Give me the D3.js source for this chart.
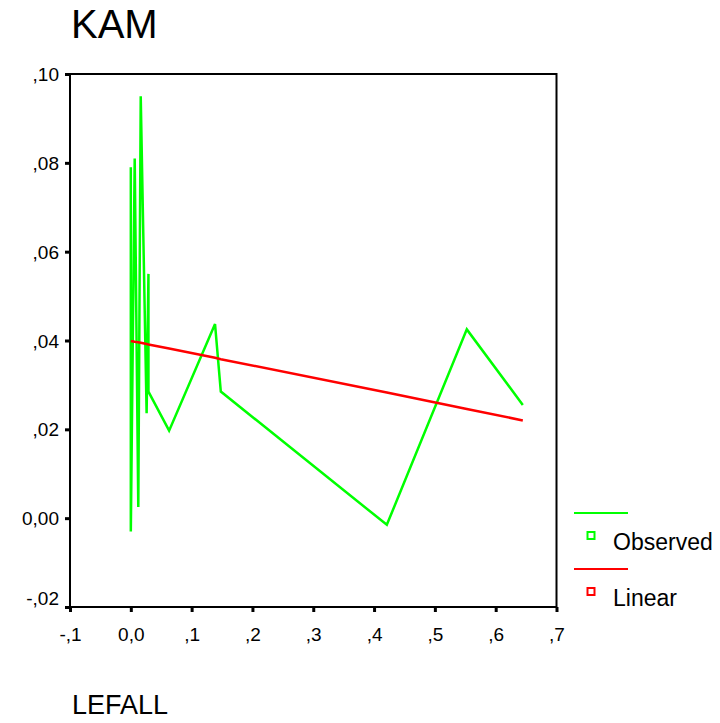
<!DOCTYPE html>
<html>
<head>
<meta charset="utf-8">
<script src="https://cdn.jsdelivr.net/npm/d3@7"></script>
<style>
  body { margin: 0; background: #fff; }
  svg { display: block; font-family: "Liberation Sans", Arial, sans-serif; }
</style>
</head>
<body>
<svg width="720" height="723"></svg>
<script>
// observed KAM vs LEFALL, sorted by x
var obsX = [0.000, 0.000, 0.0064, 0.0123, 0.0163, 0.026, 0.029, 0.029, 0.063, 0.1385, 0.148, 0.421, 0.5525, 0.6446];
var obsY = [0.079, -0.003, 0.081, 0.0025, 0.095, 0.0236, 0.055, 0.0285, 0.0197, 0.0437, 0.0285, -0.0015, 0.0425, 0.0255];

// linear fit values
var linX = [0.000, 0.0064, 0.0123, 0.0163, 0.026, 0.029, 0.063, 0.1385, 0.148, 0.421, 0.5525, 0.6446];
var linY = [0.0399, 0.0397, 0.0396, 0.0395, 0.0392, 0.0391, 0.0382, 0.0361, 0.0358, 0.0283, 0.0246, 0.0220];

var xTicks = [-0.1, 0, 0.1, 0.2, 0.3, 0.4, 0.5, 0.6, 0.7];
var xLabels = ["-,1", "0,0", ",1", ",2", ",3", ",4", ",5", ",6", ",7"];
var yTicks = [-0.02, 0, 0.02, 0.04, 0.06, 0.08, 0.10];
var yLabels = ["-,02", "0,00", ",02", ",04", ",06", ",08", ",10"];

var legendNames = ["Observed", "Linear"];
var legendColors = ["#00ff00", "#ff0000"];

var svg = d3.select("svg");

var x = d3.scaleLinear().domain([-0.1, 0.7]).range([70, 556.5]);
var y = d3.scaleLinear().domain([-0.02, 0.10]).range([607, 74]);

// title
svg.append("text")
    .attr("x", 71)
    .attr("y", 38)
    .attr("font-size", 40)
    .attr("fill", "#000")
    .text("KAM");

// frame
svg.append("rect")
    .attr("x", x(-0.1))
    .attr("y", y(0.10))
    .attr("width", x(0.7) - x(-0.1))
    .attr("height", y(-0.02) - y(0.10))
    .attr("fill", "none")
    .attr("stroke", "#000")
    .attr("stroke-width", 2);

// axes
var gx = svg.append("g")
    .attr("transform", "translate(0," + y(-0.02) + ")")
    .call(d3.axisBottom(x)
        .tickValues(xTicks)
        .tickSize(5)
        .tickPadding(25)
        .tickFormat(function (d, i) { return xLabels[i]; }));

var gy = svg.append("g")
    .attr("transform", "translate(" + x(-0.1) + ",0)")
    .call(d3.axisLeft(y)
        .tickValues(yTicks)
        .tickSize(5)
        .tickPadding(6)
        .tickFormat(function (d, i) { return yLabels[i]; }));

[gx, gy].forEach(function (g) {
    g.select(".domain").remove();
    g.selectAll(".tick line").attr("stroke", "#000").attr("stroke-width", 3);
    g.selectAll(".tick text")
        .attr("font-size", 19)
        .attr("font-family", "Liberation Sans, Arial, sans-serif")
        .attr("fill", "#000");
});
gx.selectAll(".tick text").attr("dy", "0.2em");
// bottom y label sits a bit higher than its tick
gy.selectAll(".tick text")
    .attr("dy", function (d) { return d === -0.02 ? "-0.15em" : "0.35em"; });

// lines
var line = d3.line()
    .x(function (d) { return x(d[0]); })
    .y(function (d) { return y(d[1]); });

svg.append("path")
    .datum(obsX.map(function (v, i) { return [v, obsY[i]]; }))
    .attr("fill", "none")
    .attr("stroke", legendColors[0])
    .attr("stroke-width", 2.5)
    .attr("stroke-linejoin", "miter")
    .attr("d", line);

svg.append("path")
    .datum(linX.map(function (v, i) { return [v, linY[i]]; }))
    .attr("fill", "none")
    .attr("stroke", legendColors[1])
    .attr("stroke-width", 2.5)
    .attr("d", line);

// legend
var lg = svg.append("g")
    .selectAll("g")
    .data(legendNames)
    .enter().append("g")
    .attr("transform", function (d, i) { return "translate(0," + (i * 56) + ")"; });

lg.append("line")
    .attr("x1", 574).attr("x2", 628)
    .attr("y1", 513).attr("y2", 513)
    .attr("stroke", function (d, i) { return legendColors[i]; })
    .attr("stroke-width", 2);

lg.append("rect")
    .attr("x", 587.5).attr("y", 532)
    .attr("width", 7).attr("height", 7)
    .attr("fill", "#fff")
    .attr("stroke", function (d, i) { return legendColors[i]; })
    .attr("stroke-width", 2);

lg.append("text")
    .attr("x", 613)
    .attr("y", 550)
    .attr("font-size", 23)
    .attr("fill", "#000")
    .text(function (d) { return d; });

// x axis title
svg.append("text")
    .attr("x", 72)
    .attr("y", 714)
    .attr("font-size", 27)
    .attr("fill", "#000")
    .text("LEFALL");
</script>
</body>
</html>
